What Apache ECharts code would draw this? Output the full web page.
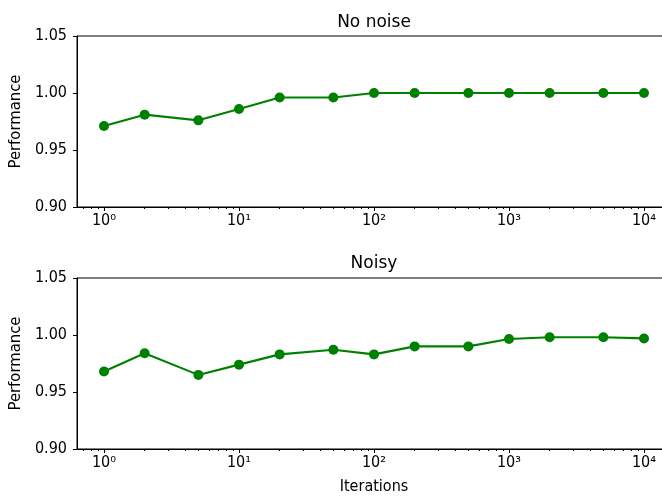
<!DOCTYPE html>
<html>
<head>
<meta charset="utf-8">
<script src="https://cdn.jsdelivr.net/npm/echarts@6/dist/echarts.min.js"></script>
<style>
  html, body { margin: 0; padding: 0; background: #fff; }
  #chart { width: 662px; height: 497px; }
</style>
</head>
<body>
<div id="chart"></div>
<script>
// iterations on the log x axis
var iterations = [1, 2, 5, 10, 20, 50, 100, 200, 500, 1000, 2000, 5000, 10000];
var noNoise = [0.971, 0.981, 0.976, 0.986, 0.996, 0.996, 1.0, 1.0, 1.0, 1.0, 1.0, 1.0, 1.0];
var noisy = [0.968, 0.984, 0.965, 0.974, 0.983, 0.987, 0.983, 0.990, 0.990, 0.9965, 0.998, 0.998, 0.997];

var majorTicks = [1, 10, 100, 1000, 10000];
var majorLabels = ['10\u2070', '10\u00b9', '10\u00b2', '10\u00b3', '10\u2074'];
var minorTicks = [0.7, 0.8, 0.9,
  2, 3, 4, 5, 6, 7, 8, 9,
  20, 30, 40, 50, 60, 70, 80, 90,
  200, 300, 400, 500, 600, 700, 800, 900,
  2000, 3000, 4000, 5000, 6000, 7000, 8000, 9000];
var titles = ['No noise', 'Noisy'];

var FONT = '"DejaVu Sans Condensed", "DejaVu Sans"';
var FS = 16;
var xMin = Math.pow(10, -0.2);
var xMax = Math.pow(10, 4.2);

function pairs(ys) {
  return iterations.map(function (x, i) { return [x, ys[i]]; });
}

function mainX(grid, showName) {
  return {
    type: 'log', logBase: 10, gridIndex: grid, min: xMin, max: xMax, position: 'bottom',
    name: showName ? 'Iterations' : '', nameLocation: 'middle', nameGap: 30,
    nameTextStyle: { fontFamily: FONT, fontSize: FS, color: '#000' },
    axisLine: { show: true, lineStyle: { color: '#000', width: 1 } },
    axisTick: { show: true, length: 4, customValues: majorTicks, lineStyle: { color: '#000' } },
    axisLabel: {
      customValues: majorTicks, margin: 6,
      fontFamily: FONT, fontSize: FS, color: '#000',
      formatter: function (v) {
        var k = majorTicks.findIndex(function (t) { return Math.abs(t - v) / t < 1e-6; });
        return k >= 0 ? majorLabels[k] : '';
      }
    },
    splitLine: { show: false }
  };
}

function minorX(grid) {
  return {
    type: 'log', logBase: 10, gridIndex: grid, min: xMin, max: xMax, position: 'bottom',
    axisLine: { show: false },
    axisTick: { show: true, length: 2, customValues: minorTicks, lineStyle: { color: '#000' } },
    axisLabel: { show: false },
    splitLine: { show: false }
  };
}

function yAx(grid) {
  return {
    type: 'value', gridIndex: grid, min: 0.9, max: 1.05, interval: 0.05,
    name: 'Performance', nameLocation: 'middle', nameGap: 38,
    nameTextStyle: { fontFamily: FONT, fontSize: 16.5, color: '#000' },
    axisLine: { show: true, lineStyle: { color: '#000', width: 1 } },
    axisTick: { show: true, length: 4, lineStyle: { color: '#000' } },
    axisLabel: {
      margin: 10, fontFamily: FONT, fontSize: FS, color: '#000',
      formatter: function (v) { return v.toFixed(2); }
    },
    splitLine: { show: false }
  };
}

function line(xi, yi, data) {
  return {
    type: 'line', xAxisIndex: xi, yAxisIndex: yi, data: pairs(data),
    symbol: 'circle', symbolSize: 10, silent: true, animation: false,
    lineStyle: { color: '#008000', width: 2.1 },
    itemStyle: { color: '#008000' }
  };
}

function gridBox(top) {
  return {
    left: 77, top: top, width: 594, height: 171, outerBoundsMode: 'none',
    show: true, borderColor: '#000', borderWidth: 1, backgroundColor: 'transparent'
  };
}

function titleBox(text, top) {
  return {
    text: text, left: 374, top: top, padding: 0, textAlign: 'center',
    textStyle: { fontFamily: 'DejaVu Sans', fontSize: 17, fontWeight: 'normal', color: '#000' }
  };
}

var chart = echarts.init(document.getElementById('chart'));
chart.setOption({
  backgroundColor: '#fff',
  animation: false,
  title: [titleBox(titles[0], 14), titleBox(titles[1], 255)],
  grid: [gridBox(36), gridBox(278)],
  xAxis: [mainX(0, false), minorX(0), mainX(1, true), minorX(1)],
  yAxis: [yAx(0), yAx(1)],
  series: [line(0, 0, noNoise), line(2, 1, noisy)]
});
</script>
</body>
</html>
